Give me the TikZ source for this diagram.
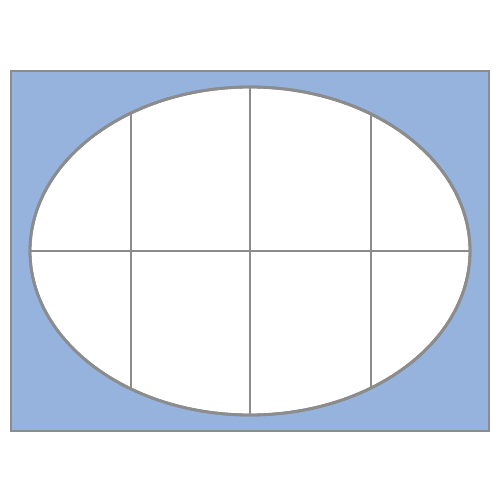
\documentclass[tikz,border=0pt]{standalone}
\definecolor{paneblue}{HTML}{95B3DD}
\definecolor{framegray}{HTML}{8C8C8C}
\tikzset{
  frameline/.style={draw=framegray, line width=1.6pt},
  barline/.style={framegray, line width=1.6pt}
}
\begin{document}
\begin{tikzpicture}[x=0.02cm, y=-0.02cm]
  \useasboundingbox (0,0) rectangle (503,503);

  % --- Outer panel ---
  \fill[white] (0,0) rectangle (503,503);
  \draw[frameline, fill=paneblue] (11,71) rectangle (489,431);

  % --- Oval window ---
  \draw[frameline, fill=white] (250,251) ellipse (220 and 164);

  % --- Muntins ---
  \begin{scope}
    \clip (250,251) ellipse (220 and 164);
    \foreach \x in {131,250,371}
      \draw[barline] (\x,80) -- (\x,420);
    \draw[barline] (25,251) -- (475,251);
  \end{scope}
  \draw[frameline] (250,251) ellipse (220 and 164);

\end{tikzpicture}
\end{document}
